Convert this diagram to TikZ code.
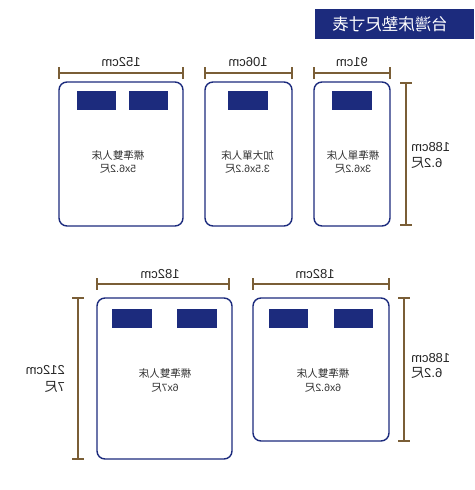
\documentclass[tikz,border=0pt]{standalone}
\usepackage{fontspec}
\setmainfont{Liberation Sans}
\newfontfamily\cjk{Noto Sans CJK TC}
\definecolor{navy}{HTML}{1C2B7D}
\definecolor{dimc}{HTML}{7A5E36}
\newcommand{\mir}[1]{\reflectbox{#1}}
\newcommand{\zh}[1]{{\cjk #1}}
\tikzset{
  bed/.style={draw=navy, line width=1.4pt, rounded corners=8pt, fill=white, inner sep=0pt},
  pillow/.style={fill=navy, inner sep=0pt, minimum height=19pt},
  dimline/.style={draw=dimc, line width=1.4pt},
  lbl/.style={inner sep=0pt, font=\fontsize{13}{14}\selectfont, text=black!85},
  btxt/.style={inner sep=0pt, font=\fontsize{10.5}{12}\selectfont, text=black!80},
  ttl/.style={inner sep=0pt, font=\cjk\fontsize{16.5}{18}\selectfont, text=white},
}
\begin{document}
\begin{tikzpicture}[x=1pt, y=-1pt]
\useasboundingbox (0,0) rectangle (474,490);
\fill[white] (0,0) rectangle (474,490);

% title
\node[fill=navy, minimum width=159pt, minimum height=30pt, inner sep=0pt] (title) at (394.5,24) {};
\node[ttl] (titletext) at (390,24) {\mir{台灣床墊尺寸表}};

% ---------- top row ----------
% bed 1
\node[bed, minimum width=124pt, minimum height=144pt] (b1) at (121,154) {};
\node[pillow, minimum width=39pt] (p1a) at (96.5,100.5) {};
\node[pillow, minimum width=39pt] (p1b) at (148.5,100.5) {};
\node[btxt] (t1a) at (118,155) {\mir{\zh{標準雙人床}}};
\node[btxt] (t1b) at (118,169) {\mir{5x6.2\zh{尺}}};
\coordinate (d1l) at (59,73); \coordinate (d1r) at (183,73);
\draw[dimline] (d1l) -- (d1r);
\draw[dimline] ([yshift=6pt]d1l) -- ([yshift=-6pt]d1l);
\draw[dimline] ([yshift=6pt]d1r) -- ([yshift=-6pt]d1r);
\node[lbl] (l1) at (121,62) {\mir{152cm}};

% bed 2
\node[bed, minimum width=87pt, minimum height=144pt] (b2) at (248.5,154) {};
\node[pillow, minimum width=40pt] (p2) at (248,100.5) {};
\node[btxt] (t2a) at (247.5,155) {\mir{\zh{加大單人床}}};
\node[btxt] (t2b) at (247.5,169) {\mir{3.5x6.2\zh{尺}}};
\coordinate (d2l) at (205,73); \coordinate (d2r) at (292,73);
\draw[dimline] (d2l) -- (d2r);
\draw[dimline] ([yshift=6pt]d2l) -- ([yshift=-6pt]d2l);
\draw[dimline] ([yshift=6pt]d2r) -- ([yshift=-6pt]d2r);
\node[lbl] (l2) at (248,62) {\mir{106cm}};

% bed 3
\node[bed, minimum width=76pt, minimum height=144pt] (b3) at (352,154) {};
\node[pillow, minimum width=40pt] (p3) at (352,100.5) {};
\node[btxt] (t3a) at (353,155) {\mir{\zh{標準單人床}}};
\node[btxt] (t3b) at (353,169) {\mir{3x6.2\zh{尺}}};
\coordinate (d3l) at (314,73); \coordinate (d3r) at (390,73);
\draw[dimline] (d3l) -- (d3r);
\draw[dimline] ([yshift=6pt]d3l) -- ([yshift=-6pt]d3l);
\draw[dimline] ([yshift=6pt]d3r) -- ([yshift=-6pt]d3r);
\node[lbl] (l3) at (352,62) {\mir{91cm}};

% vertical dim top right
\coordinate (v1t) at (406,83); \coordinate (v1b) at (406,225);
\draw[dimline] (v1t) -- (v1b);
\draw[dimline] ([xshift=-6pt]v1t) -- ([xshift=6pt]v1t);
\draw[dimline] ([xshift=-6pt]v1b) -- ([xshift=6pt]v1b);
\node[lbl, anchor=west] (v1a) at (411,147) {\mir{188cm}};
\node[lbl, anchor=west] (v1c) at (411,163) {\mir{6.2\zh{尺}}};

% ---------- bottom row ----------
% bed 4
\node[bed, minimum width=135pt, minimum height=161pt] (b4) at (164.5,378.5) {};
\node[pillow, minimum width=40pt] (p4a) at (132,318.5) {};
\node[pillow, minimum width=40pt] (p4b) at (197,318.5) {};
\node[btxt] (t4a) at (165,373) {\mir{\zh{標準雙人床}}};
\node[btxt] (t4b) at (165,388) {\mir{6x7\zh{尺}}};
\coordinate (d4l) at (97,284); \coordinate (d4r) at (229,284);
\draw[dimline] (d4l) -- (d4r);
\draw[dimline] ([yshift=6pt]d4l) -- ([yshift=-6pt]d4l);
\draw[dimline] ([yshift=6pt]d4r) -- ([yshift=-6pt]d4r);
\node[lbl] (l4) at (160,274) {\mir{182cm}};
\coordinate (v2t) at (78,298); \coordinate (v2b) at (78,459);
\draw[dimline] (v2t) -- (v2b);
\draw[dimline] ([xshift=-6pt]v2t) -- ([xshift=6pt]v2t);
\draw[dimline] ([xshift=-6pt]v2b) -- ([xshift=6pt]v2b);
\node[lbl, anchor=east] (v2a) at (65,370) {\mir{212cm}};
\node[lbl, anchor=east] (v2c) at (65,387) {\mir{7\zh{尺}}};

% bed 5
\node[bed, minimum width=136pt, minimum height=143pt] (b5) at (321,369.5) {};
\node[pillow, minimum width=39pt] (p5a) at (288.5,318.5) {};
\node[pillow, minimum width=39pt] (p5b) at (353.5,318.5) {};
\node[btxt] (t5a) at (323,373) {\mir{\zh{標準雙人床}}};
\node[btxt] (t5b) at (323,388) {\mir{6x6.2\zh{尺}}};
\coordinate (d5l) at (253,284); \coordinate (d5r) at (389,284);
\draw[dimline] (d5l) -- (d5r);
\draw[dimline] ([yshift=6pt]d5l) -- ([yshift=-6pt]d5l);
\draw[dimline] ([yshift=6pt]d5r) -- ([yshift=-6pt]d5r);
\node[lbl] (l5) at (315,274) {\mir{182cm}};
\coordinate (v3t) at (404,298); \coordinate (v3b) at (404,441);
\draw[dimline] (v3t) -- (v3b);
\draw[dimline] ([xshift=-6pt]v3t) -- ([xshift=6pt]v3t);
\draw[dimline] ([xshift=-6pt]v3b) -- ([xshift=6pt]v3b);
\node[lbl, anchor=west] (v3a) at (411,358) {\mir{188cm}};
\node[lbl, anchor=west] (v3c) at (411,373) {\mir{6.2\zh{尺}}};
\end{tikzpicture}
\end{document}
